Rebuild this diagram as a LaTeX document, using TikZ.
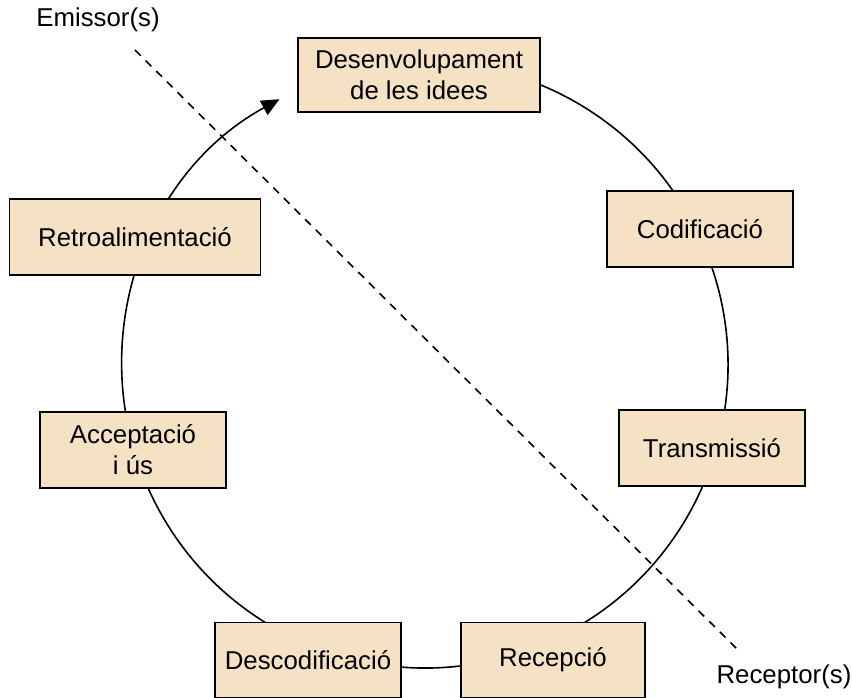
\documentclass[tikz,border=0pt]{standalone}
\usepackage{fontspec}
\setmainfont{Liberation Sans}
\usetikzlibrary{arrows.meta}
\definecolor{boxfill}{HTML}{F5E1C3}
\begin{document}
\begin{tikzpicture}[x=1pt, y=1pt]
	\tikzset{
		stage node/.style={rectangle, draw, line width=1.6pt, fill=boxfill, minimum width=186pt, minimum height=76pt, align=center, font=\fontsize{25.8}{31}\selectfont},
		cycle line/.style={line width=1.6pt},
		side label/.style={font=\fontsize{25.8}{31}\selectfont},
		split line/.style={line width=1.6pt, dash pattern=on 8pt off 7pt}
	}
	\useasboundingbox (0,0) rectangle (852,698);
	\coordinate (c) at (425,333);
	% Communication cycle
	\draw[cycle line, -{Triangle[length=18pt, width=16pt]}] (c) ++(114.8:303) arc[start angle=114.8, end angle=-241.3, radius=303pt];
	% Stages
	\node (idees) at (419,623) [stage node, minimum width=242pt, minimum height=74pt] {Desenvolupament\\de les idees};
	\node (codif) at (700,469) [stage node] {Codificació};
	\node (transm) at (712,250) [stage node] {Transmissió};
	\node (recep) at (553,38) [stage node, minimum width=184pt, minimum height=75pt] {Recepció};
	\node (descod) at (308,38) [stage node, minimum height=75pt] {Descodificació};
	\node (accept) at (133,248) [stage node] {Acceptació\\i ús};
	\node (retro) at (135,461) [stage node, minimum width=251pt] {Retroalimentació};
	% Sender / receiver split
	\node (emissor) at (98,678) [side label] {Emissor(s)};
	\node (receptor) at (784,21) [side label] {Receptor(s)};
	\coordinate (split top) at (135,648);
	\coordinate (split bottom) at (738,48);
	\draw[split line] (split top) -- (split bottom);
\end{tikzpicture}
\end{document}
